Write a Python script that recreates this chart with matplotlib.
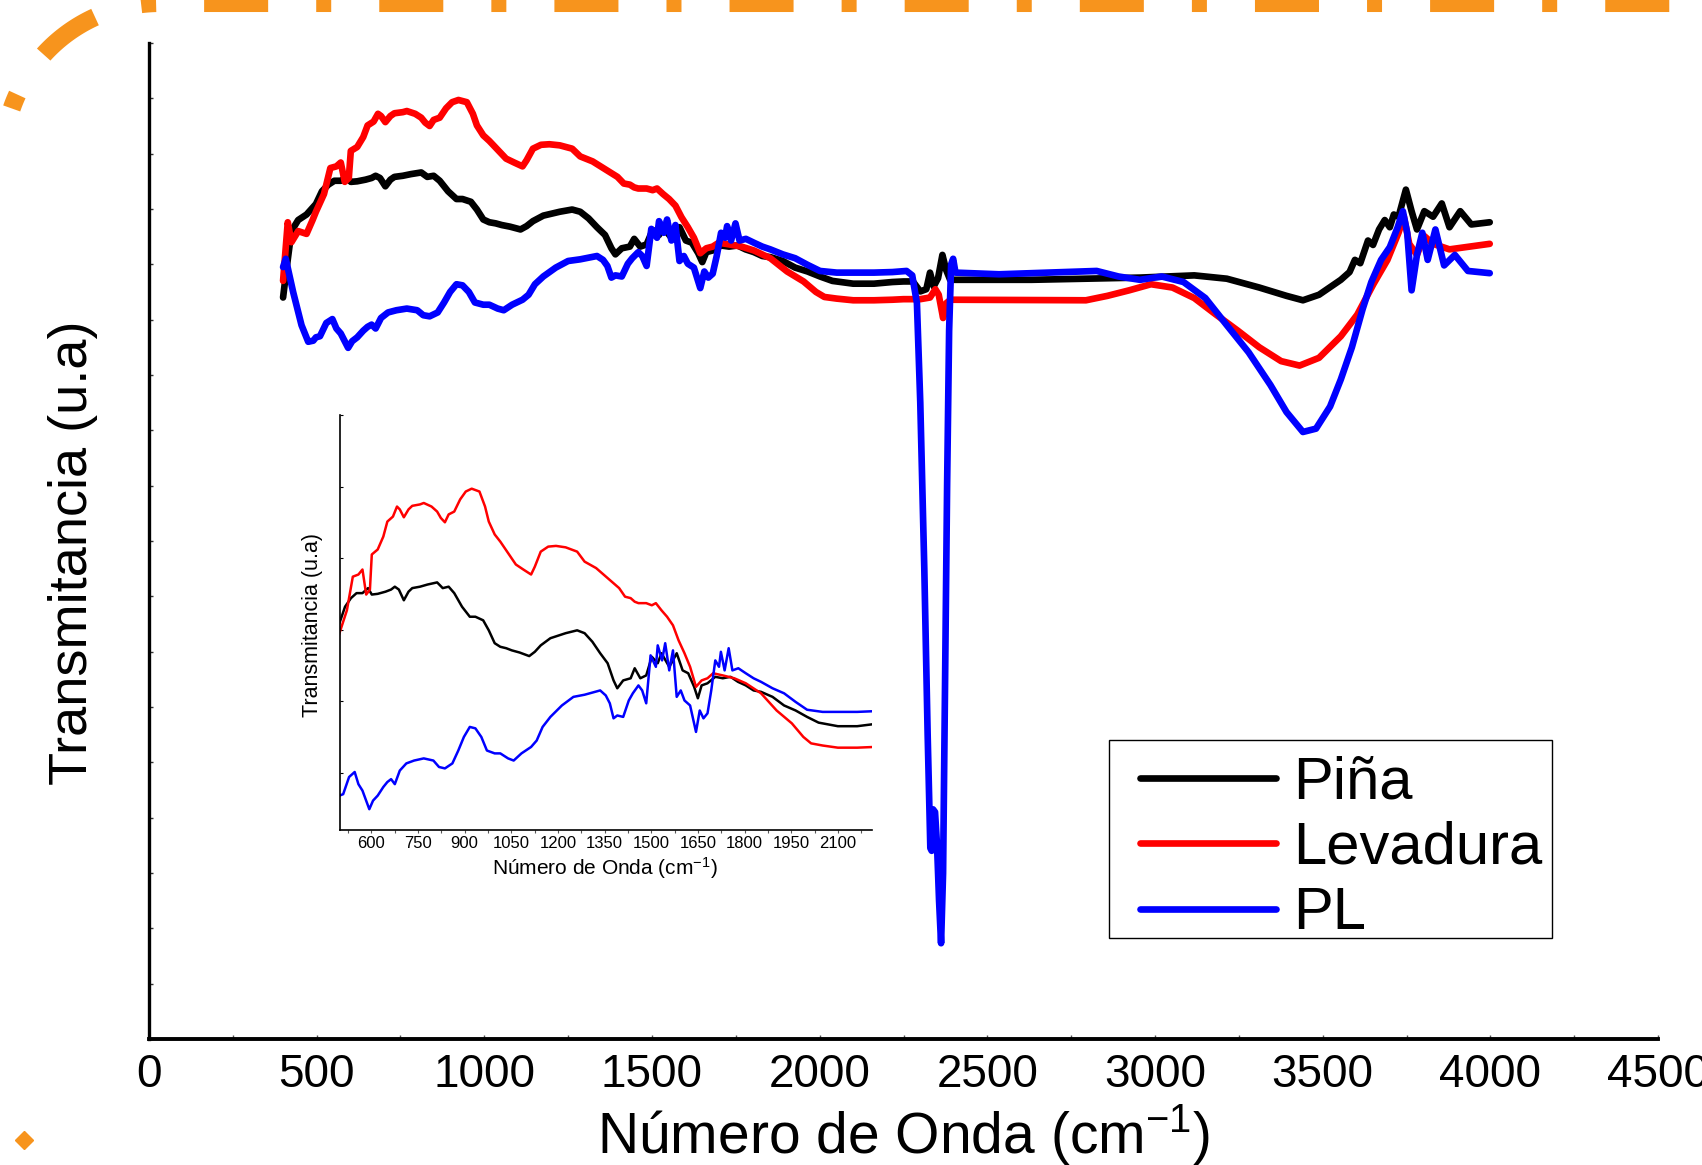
import numpy as np
import matplotlib
matplotlib.use("Agg")
import matplotlib.pyplot as plt
from matplotlib.patches import Rectangle
from matplotlib.ticker import MultipleLocator, NullFormatter

plt.rcParams['font.family'] = ['Liberation Sans', 'DejaVu Sans']
plt.rcParams['mathtext.fontset'] = 'custom'
plt.rcParams['mathtext.rm'] = 'Liberation Sans'
plt.rcParams['mathtext.it'] = 'Liberation Sans:italic'
plt.rcParams['lines.scale_dashes'] = False

# ---- data (wavenumber cm-1, transmittance in arbitrary units) ----
pina_wn = [400, 410, 425, 445, 470,
           498, 516, 535, 553, 572, 590, 602, 621, 646, 664, 676, 689, 705, 720, 732,
           757, 781, 812, 830, 849, 867, 892, 917, 935, 960, 978, 997, 1015, 1034, 1052,
           1077, 1108, 1126, 1145, 1176, 1225, 1262, 1286, 1311, 1336, 1360, 1379, 1391,
           1410, 1434, 1447, 1465, 1484, 1502, 1521, 1533, 1558, 1570, 1582, 1601, 1619,
           1638, 1650, 1662, 1681, 1706, 1730, 1755, 1779, 1804, 1829, 1853, 1890, 1927,
           1964, 2001, 2038, 2100, 2162, 2217,
           2250, 2278, 2300, 2318, 2329, 2340, 2353, 2366, 2377, 2389, 2420, 2632, 2794,
           2955, 3117, 3214, 3311, 3392, 3441, 3489, 3554, 3580, 3596, 3612, 3635, 3650,
           3668, 3685, 3700, 3712, 3726, 3748, 3765, 3781, 3803, 3829, 3855, 3878, 3910,
           3943, 3998]
pina_t = [13.40, 13.90, 14.60, 14.80, 14.90,
          15.09, 15.32, 15.44, 15.51, 15.51, 15.58, 15.49, 15.50, 15.53, 15.56, 15.60, 15.56, 15.41, 15.53, 15.58,
          15.60, 15.63, 15.66, 15.58, 15.60, 15.51, 15.32, 15.18, 15.18, 15.13, 14.99, 14.81, 14.76, 14.74, 14.71,
          14.68, 14.63, 14.69, 14.78, 14.88, 14.95, 14.99, 14.95, 14.83, 14.67, 14.53, 14.29, 14.18,
          14.29, 14.32, 14.46, 14.32, 14.36, 14.62, 14.53, 14.67, 14.48, 14.57, 14.67, 14.43, 14.39,
          14.20, 14.04, 14.22, 14.25, 14.34, 14.32, 14.34, 14.27, 14.22, 14.15, 14.13, 14.06, 13.94,
          13.87, 13.78, 13.70, 13.65, 13.65, 13.68,
          13.69, 13.69, 13.51, 13.55, 13.85, 13.60, 13.75, 14.17, 13.90, 13.72, 13.72, 13.72, 13.74,
          13.76, 13.80, 13.74, 13.58, 13.43, 13.35, 13.45, 13.72, 13.86, 14.08, 14.02, 14.43, 14.35,
          14.63, 14.80, 14.67, 14.90, 14.86, 15.35, 14.96, 14.63, 14.96, 14.86, 15.10, 14.67, 14.96,
          14.72, 14.76]

levadura_wn = [400, 414, 425, 445, 470, 488,
               498, 522, 541, 559, 572, 584, 596, 602, 621, 639, 652, 670, 683, 692, 705,
               720, 732, 757, 769, 794, 812, 824, 837, 849, 867, 886, 904, 923, 948, 966,
               978, 997, 1015, 1040, 1065, 1089, 1114, 1126, 1145, 1169, 1194, 1225, 1262,
               1286, 1323, 1360, 1397, 1416, 1434, 1447, 1459, 1484, 1502, 1515, 1533, 1551,
               1570, 1588, 1607, 1625, 1644, 1662, 1681, 1699, 1730, 1767, 1804, 1853, 1903,
               1952, 1989, 2014, 2051, 2100, 2162, 2217,
               2250, 2300, 2329, 2345, 2355, 2368, 2378, 2390, 2794, 2858, 2923, 2988, 3052,
               3117, 3182, 3247, 3311, 3376, 3431, 3489, 3554, 3603, 3651, 3693, 3726, 3742,
               3758, 3781, 3803, 3829, 3878, 3926, 3998]
levadura_t = [13.70, 14.76, 14.40, 14.60, 14.55, 14.80,
              14.95, 15.27, 15.74, 15.77, 15.84, 15.49, 15.56, 16.05, 16.12, 16.30, 16.51, 16.58, 16.72, 16.68, 16.57,
              16.68, 16.73, 16.75, 16.77, 16.72, 16.65, 16.56, 16.50, 16.61, 16.65, 16.82, 16.93, 16.97, 16.93, 16.72,
              16.51, 16.33, 16.23, 16.07, 15.91, 15.84, 15.77, 15.88, 16.09, 16.16, 16.17, 16.15, 16.09,
              15.95, 15.86, 15.72, 15.58, 15.46, 15.44, 15.39, 15.37, 15.37, 15.34, 15.37, 15.27, 15.18,
              15.06, 14.85, 14.67, 14.48, 14.20, 14.29, 14.32, 14.39, 14.36, 14.32, 14.25, 14.11, 13.87,
              13.69, 13.50, 13.41, 13.38, 13.35, 13.35, 13.36,
              13.37, 13.37, 13.40, 13.55, 13.45, 13.03, 13.30, 13.36, 13.35, 13.43, 13.53, 13.64, 13.58,
              13.39, 13.09, 12.80, 12.50, 12.25, 12.17, 12.31, 12.70, 13.09, 13.64, 14.08, 14.57, 14.86,
              14.37, 14.17, 14.51, 14.37, 14.27, 14.31, 14.37]

pl_wn = [400, 408, 430, 455, 475, 490,
         498, 510, 529, 547, 559, 572, 584, 594, 606, 621, 639, 652, 664, 676, 692,
         713, 738, 769, 800, 818, 837, 861, 880, 898, 917, 935, 954, 972, 997, 1015,
         1040, 1058, 1083, 1114, 1132, 1151, 1176, 1213, 1250, 1286, 1311, 1336, 1354,
         1367, 1379, 1391, 1410, 1428, 1441, 1459, 1471, 1484, 1498, 1515, 1521, 1535,
         1545, 1558, 1570, 1582, 1595, 1607, 1625, 1638, 1644, 1656, 1668, 1681, 1693,
         1706, 1718, 1724, 1736, 1749, 1761, 1780, 1804, 1829, 1853, 1890, 1927, 1964,
         2001, 2051, 2100, 2162, 2217,
         2259, 2276, 2290, 2300, 2312, 2322, 2330, 2334, 2338, 2344, 2350, 2356, 2362,
         2368, 2374, 2380, 2386, 2392, 2398, 2405, 2535, 2826, 2891, 2955, 3020, 3085,
         3150, 3214, 3279, 3344, 3392, 3441, 3480, 3522, 3554, 3587, 3619, 3645, 3674,
         3700, 3723, 3739, 3752, 3765, 3781, 3797, 3813, 3836, 3862, 3894, 3933, 3998]
pl_t = [13.95, 14.10, 13.50, 12.90, 12.60, 12.62,
        12.68, 12.70, 12.94, 13.01, 12.84, 12.75, 12.61, 12.49, 12.61, 12.68, 12.80, 12.87, 12.91, 12.84, 13.03,
        13.13, 13.17, 13.20, 13.17, 13.08, 13.06, 13.13, 13.31, 13.50, 13.64, 13.62, 13.50, 13.31, 13.27, 13.27,
        13.20, 13.17, 13.27, 13.36, 13.45, 13.64, 13.78, 13.94, 14.06, 14.09, 14.12, 14.15, 14.08,
        13.97, 13.76, 13.80, 13.78, 14.01, 14.11, 14.22, 14.15, 13.97, 14.64, 14.48, 14.78, 14.57,
        14.81, 14.43, 14.71, 14.06, 14.15, 14.01, 13.94, 13.69, 13.57, 13.87, 13.76, 13.83, 14.15,
        14.57, 14.48, 14.69, 14.43, 14.74, 14.43, 14.46, 14.39, 14.32, 14.27, 14.18, 14.11, 13.99,
        13.88, 13.85, 13.85, 13.85, 13.86,
        13.88, 13.80, 13.30, 11.50, 8.50, 5.50, 3.45, 3.40, 4.15, 4.10, 3.50, 2.50, 1.73,
        3.00, 6.50, 10.00, 12.80, 14.00, 14.10, 13.85, 13.82, 13.88, 13.78, 13.72, 13.78, 13.68,
        13.39, 12.90, 12.41, 11.82, 11.33, 10.97, 11.03, 11.43, 11.92, 12.50, 13.19, 13.68, 14.08,
        14.31, 14.66, 14.96, 14.57, 13.53, 14.17, 14.57, 14.08, 14.63, 13.98, 14.17, 13.88, 13.84]

series = [("Piña", pina_wn, pina_t, "black"),
          ("Levadura", levadura_wn, levadura_t, "#ff0000"),
          ("PL", pl_wn, pl_t, "#0000ff")]

orange = "#F7941D"

fig = plt.figure(figsize=(17.02, 11.65), dpi=100)

# slide decoration (dashed orange frame corner + diamond), pixel coordinates
deco = fig.add_axes([0, 0, 1, 1])
deco.set_xlim(0, 1702)
deco.set_ylim(0, 1165)
deco.axis('off')
th = np.radians(np.linspace(170, 90, 80))
fx = np.concatenate([160 + 157 * np.cos(th), [1720]])
fy = np.concatenate([1005 + 157 * np.sin(th), [1162]])
deco.plot(fx, fy, color=orange, lw=13,
          linestyle=(108.0, (10.8, 34.6, 46.1, 34.6)), dash_capstyle='butt')
deco.plot([24], [25], marker='D', ms=9.5, color=orange, ls='none')
# legend frame (drawn separately to get the wide side padding)
deco.add_patch(Rectangle((1109, 227), 443, 198, facecolor='white',
                         edgecolor='black', lw=1.0))

# main axes
ax = fig.add_axes([0.0875, 0.1082, 0.8867, 0.8549])
ax.patch.set_alpha(0)
for name, wn, t, c in series:
    ax.plot(wn, t, color=c, lw=4.8, label=name, solid_joinstyle='round', solid_capstyle='round')

ax.set_xlim(0, 4500)
ax.set_ylim(0, 18)
ax.spines['top'].set_visible(False)
ax.spines['right'].set_visible(False)
ax.spines['left'].set_linewidth(2.4)
ax.spines['bottom'].set_linewidth(2.8)
ax.xaxis.set_major_locator(MultipleLocator(500))
ax.xaxis.set_minor_locator(MultipleLocator(250))
ax.yaxis.set_major_locator(MultipleLocator(1))
ax.yaxis.set_major_formatter(NullFormatter())
ax.tick_params(axis='x', which='both', direction='in', length=3, width=1,
               labelsize=33, pad=10, color='#555555')
ax.tick_params(axis='y', which='both', direction='in', length=3, width=1, color='#333333')
ax.set_xlabel("Número de Onda (cm$^{-1}$)", fontsize=41)
ax.set_ylabel("Transmitancia (u.a)", fontsize=39)
ax.xaxis.set_label_coords(0.5, -0.063)
ax.yaxis.set_label_coords(-0.034, 0.488)

leg = ax.legend(loc='upper left', bbox_to_anchor=(0.6698, 0.3515),
                bbox_transform=fig.transFigure, fontsize=43, frameon=False,
                handlelength=2.28, handletextpad=0.28, labelspacing=0.175,
                borderpad=0, borderaxespad=0)
for h in leg.get_lines():
    h.set_linewidth(4.8)

# inset
ins = fig.add_axes([0.1998, 0.2876, 0.3126, 0.3562])
for name, wn, t, c in series:
    ins.plot(wn, t, color=c, lw=1.8)
ins.set_xlim(500, 2210)
ins.set_ylim(12.2, 18.0)
ins.spines['top'].set_visible(False)
ins.spines['right'].set_visible(False)
ins.spines['left'].set_linewidth(1.2)
ins.spines['bottom'].set_linewidth(1.2)
ins.set_xticks([600, 750, 900, 1050, 1200, 1350, 1500, 1650, 1800, 1950, 2100])
ins.xaxis.set_minor_locator(MultipleLocator(75))
ins.yaxis.set_major_locator(MultipleLocator(1))
ins.yaxis.set_major_formatter(NullFormatter())
ins.tick_params(axis='x', which='both', direction='out', length=2.5, width=0.8,
                labelsize=12, pad=2, color='#555555')
ins.tick_params(axis='y', which='both', direction='in', length=2.5, width=0.8)
ins.set_xlabel("Número de Onda (cm$^{-1}$)", fontsize=15)
ins.set_ylabel("Transmitancia (u.a)", fontsize=15.5)
ins.xaxis.set_label_coords(0.498, -0.06)
ins.yaxis.set_label_coords(-0.032, 0.494)

fig.savefig("out.png", dpi=100)
